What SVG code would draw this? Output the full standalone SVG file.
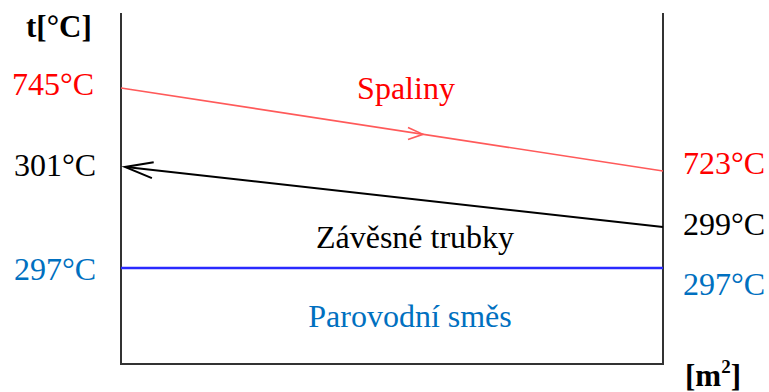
<svg xmlns="http://www.w3.org/2000/svg" width="769" height="392" viewBox="0 0 769 392">
<style>
text{font-family:"Liberation Serif","Times New Roman",serif;font-size:32px}
.b{font-weight:bold;fill:#000;font-size:31px}
.r{fill:#ff0000}
.k{fill:#000}
.bl{fill:#0070c0}
.axis{stroke:#333;stroke-width:2;fill:none}
</style>
<g id="axes">
<path class="axis" d="M121,13 V364 H663 V13"/>
<text class="b" x="26" y="37">t[°C]</text>
<text class="b" x="685" y="386">[m<tspan font-size="19" dy="-13">2</tspan><tspan dy="13">]</tspan></text>
</g>
<g id="connectors">
<line id="spaliny-line" x1="121" y1="88" x2="663" y2="171" stroke="#ff5a5a" stroke-width="1.6"/>
<path d="M408,127.5 L423,134.3 L408,139.5" fill="none" stroke="#ff5a5a" stroke-width="1.6"/>
<line id="trubky-line" x1="663" y1="227" x2="126" y2="167" stroke="#000" stroke-width="2"/>
<path d="M153.7,162.2 L125,167 L151.9,178.1" fill="none" stroke="#000" stroke-width="2"/>
<line id="smes-line" x1="121" y1="268" x2="663" y2="268" stroke="#2a2aff" stroke-width="2.5"/>
</g>
<g id="spaliny">
<text class="r" x="12" y="95">745°C</text>
<text class="r" x="406" y="99" text-anchor="middle">Spaliny</text>
<text class="r" x="683" y="174">723°C</text>
</g>
<g id="zavesne-trubky">
<text class="k" x="14" y="176">301°C</text>
<text class="k" x="415" y="248" text-anchor="middle">Závěsné trubky</text>
<text class="k" x="683" y="235">299°C</text>
</g>
<g id="parovodni-smes">
<text class="bl" x="14" y="280">297°C</text>
<text class="bl" x="410" y="327" text-anchor="middle">Parovodní směs</text>
<text class="bl" x="683" y="295">297°C</text>
</g>
</svg>
